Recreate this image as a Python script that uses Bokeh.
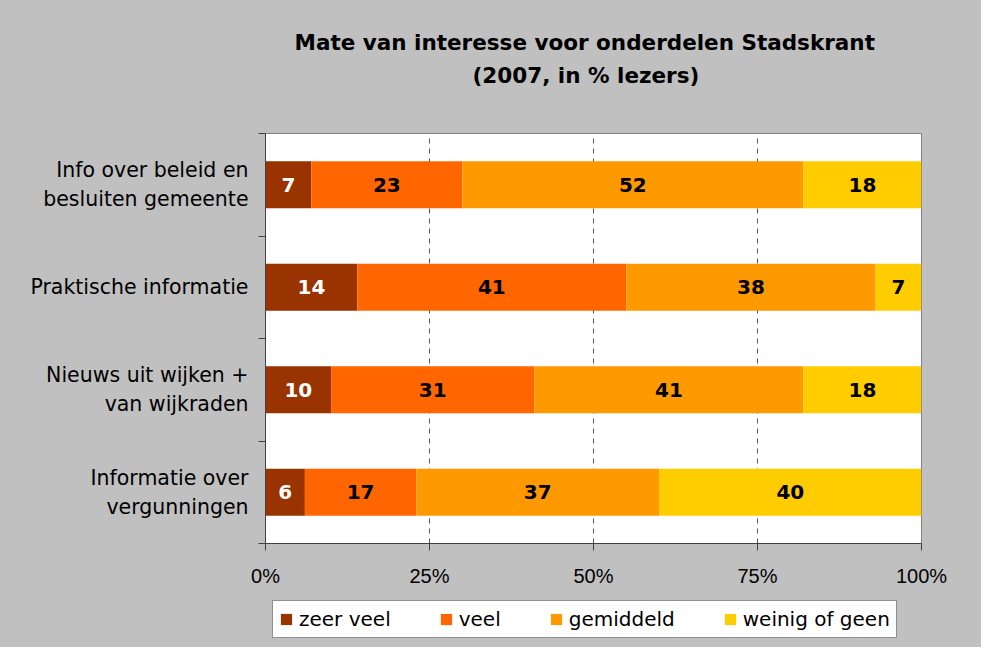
from bokeh.plotting import figure
from bokeh.layouts import column
from bokeh.models import ColumnDataSource, FixedTicker, Legend, LegendItem, PrintfTickFormatter, Title
from bokeh.embed import file_html
from bokeh.resources import INLINE
from bokeh.core.properties import value

# ---- data ----
categories = [
    "Info over beleid en\nbesluiten gemeente",
    "Praktische informatie",
    "Nieuws uit wijken +\nvan wijkraden",
    "Informatie over\nvergunningen",
]
series_names = ["zeer veel", "veel", "gemiddeld", "weinig of geen"]
zeer_veel = [7, 14, 10, 6]
veel = [23, 41, 31, 17]
gemiddeld = [52, 38, 41, 37]
weinig_of_geen = [18, 7, 18, 40]
x_ticks = [0, 25, 50, 75, 100]
title_line1 = "Mate van interesse voor onderdelen Stadskrant"
title_line2 = "(2007, in % lezers)"

# ---- styles ----
colors = ["#993300", "#FF6600", "#FF9900", "#FFCC00"]
label_colors = ["white", "black", "black", "black"]
BG = "#C0C0C0"
FW = 656
BL, BR = 265, 60


def strip(height, frame_h, top, x_range=(0, 1), y_range=(0, 1)):
    f = figure(
        frame_width=FW, frame_height=frame_h, x_range=x_range, y_range=y_range,
        output_backend="svg", toolbar_location=None,
        x_axis_type=None, y_axis_type=None,
        background_fill_color=BG, border_fill_color=BG,
        min_border_left=BL, min_border_right=BR,
        min_border_top=top, min_border_bottom=height - frame_h - top,
    )
    f.outline_line_color = None
    f.grid.visible = False
    return f


# ---- title strip ----
def style_title(t, off, stand):
    t.align = "left"
    t.offset = off
    t.standoff = stand
    t.text_font = "DejaVu Sans"
    t.text_font_style = "bold"
    t.text_font_size = "21.5px"
    t.text_color = "black"

p0 = strip(133, 43, 90)
p0.title.text = title_line1
style_title(p0.title, 29, 6)
t2 = Title(text=title_line2)
style_title(t2, 207, 6)
p0.add_layout(t2, "above")

# ---- main chart ----
n = len(categories)
ypos = [n - i - 0.5 for i in range(n)]
boundaries = [float(i) for i in range(n + 1)]

p = figure(
    frame_width=FW, frame_height=410,
    x_range=(0, 100), y_range=(0, n),
    output_backend="svg", toolbar_location=None, title_location=None,
    background_fill_color="white", border_fill_color=BG,
    min_border_left=BL, min_border_right=BR, min_border_top=0, min_border_bottom=55,
)
p.outline_line_color = "#808080"
p.outline_line_width = 1

# legend strip: its ranges lie far from the data, so only the legend shows
p2 = strip(49, 49, 0, x_range=(5000, 5001), y_range=(5000, 5001))

all_series = [zeer_veel, veel, gemiddeld, weinig_of_geen]
lefts = [0] * n
items = []
for k, vals in enumerate(all_series):
    rights = [lefts[i] + vals[i] for i in range(n)]
    mids = [(lefts[i] + rights[i]) / 2 for i in range(n)]
    src = ColumnDataSource(dict(y=ypos, left=lefts, right=rights, mid=mids,
                                lab=[str(v) for v in vals]))
    p.hbar(y="y", left="left", right="right", height=0.46, source=src,
           fill_color=colors[k], line_color=None)
    p.text(x="mid", y="y", text="lab", source=src, text_align="center",
           text_baseline="middle", text_font=value("DejaVu Sans"),
           text_font_style="bold", text_font_size="20px", text_color=label_colors[k])
    r2 = p2.hbar(y="y", left="left", right="right", height=0.46, source=src,
                 fill_color=colors[k], line_color=None)
    items.append(LegendItem(label=series_names[k], renderers=[r2]))
    lefts = rights

xa = p.xaxis[0]
xa.ticker = FixedTicker(ticks=x_ticks)
xa.formatter = PrintfTickFormatter(format="%d%%")
xa.major_tick_out = 7
xa.major_tick_in = 0
xa.minor_tick_line_color = None
xa.axis_line_color = "#404040"
xa.major_tick_line_color = "#404040"
xa.major_label_text_font = "Liberation Sans"
xa.major_label_text_font_size = "20px"
xa.major_label_text_color = "black"
xa.major_label_standoff = 14

ya = p.yaxis[0]
ya.ticker = FixedTicker(ticks=ypos, minor_ticks=boundaries)
ya.major_label_overrides = {ypos[i]: categories[i] for i in range(n)}
ya.major_tick_line_color = None
ya.major_tick_out = 0
ya.major_tick_in = 0
ya.minor_tick_out = 7
ya.minor_tick_in = 0
ya.minor_tick_line_color = "#404040"
ya.axis_line_color = "#404040"
ya.major_label_text_font = "DejaVu Sans"
ya.major_label_text_font_size = "20.5px"
ya.major_label_text_color = "black"
ya.major_label_text_line_height = 1.2
ya.major_label_standoff = 10

p.ygrid.visible = False
p.xgrid.ticker = FixedTicker(ticks=[25, 50, 75])
p.xgrid.grid_line_color = "#555555"
p.xgrid.grid_line_dash = "5 5"
p.xgrid.grid_line_width = 1

legend = Legend(items=items, orientation="horizontal", location=(7, 9))
legend.label_text_font = "DejaVu Sans"
legend.label_text_font_size = "20px"
legend.label_text_color = "black"
legend.glyph_width = 14
legend.glyph_height = 14
legend.label_standoff = 6
legend.spacing = 48
legend.padding = 6
legend.margin = 0
legend.border_line_color = "#202020"
legend.border_line_width = 1
legend.background_fill_color = "white"
legend.background_fill_alpha = 1
p2.add_layout(legend, "center")

layout = column(p0, p, p2, spacing=0, styles={"background-color": BG})
open("out.html", "w").write(file_html(layout, INLINE))
